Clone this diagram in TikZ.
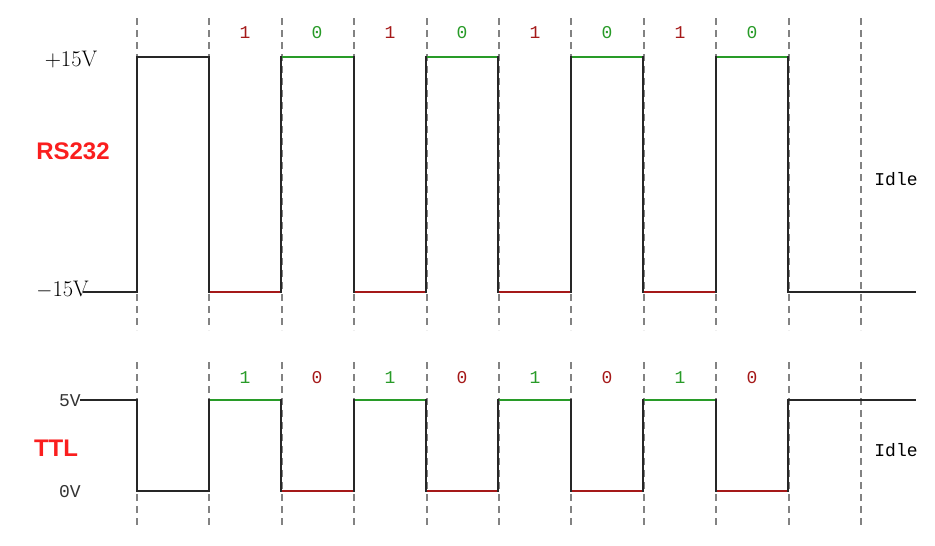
\documentclass[tikz,border=0pt]{standalone}
\usepackage{fontspec}
\newfontfamily\lsb{Liberation Sans}
\newfontfamily\mono{Liberation Mono}
\definecolor{sigred}{RGB}{165,25,25}
\definecolor{siggreen}{RGB}{40,155,40}
\definecolor{titred}{RGB}{250,30,30}
\definecolor{dashgray}{RGB}{130,130,130}
\tikzset{
  grid/.style={draw=dashgray,line width=2pt,dash pattern=on 7pt off 5pt},
  sig/.style={draw=black!85,line width=1.8pt},
  bitr/.style={sigred,line width=1.8pt},
  bitg/.style={siggreen,line width=1.8pt},
  monolab/.style={font=\mono\fontsize{18}{18}\selectfont,inner sep=0pt},
  title/.style={font=\lsb\bfseries\fontsize{24}{24}\selectfont,text=titred,inner sep=0pt},
  volt/.style={font=\fontsize{22.5}{22.5}\selectfont,inner sep=0pt}
}
\begin{document}
\begin{tikzpicture}[x=1pt,y=-1pt]
\useasboundingbox (0,0) rectangle (935,546);
\fill[white] (0,0) rectangle (935,546);
% dashed grid
\foreach \i in {0,...,10}{
  \pgfmathsetmacro{\xx}{137+72.4*\i}
  \draw[grid] (\xx,18) -- (\xx,330);
  \draw[grid] (\xx,362) -- (\xx,528);
}
% RS232 waveform
\coordinate (ts) at (83,292);
\coordinate (te) at (916,292);
\draw[sig] (ts) -- (137,292) -- (137,57) -- (209,57) -- (209,292) -- (281,292) -- (281,57)
  -- (354,57) -- (354,292) -- (426,292) -- (426,57) -- (498,57) -- (498,292) -- (571,292)
  -- (571,57) -- (643,57) -- (643,292) -- (716,292) -- (716,57) -- (788,57) -- (788,292) -- (te);
\foreach \a/\b in {209/281,354/426,498/571,643/716}
  \draw[bitr] (\a+1,292) -- (\b-1,292);
\foreach \a/\b in {281/354,426/498,571/643,716/788}
  \draw[bitg] (\a+1,57) -- (\b-1,57);
% TTL waveform
\coordinate (bs) at (80,400);
\coordinate (be) at (916,400);
\draw[sig] (bs) -- (137,400) -- (137,491) -- (209,491) -- (209,400) -- (281,400) -- (281,491)
  -- (354,491) -- (354,400) -- (426,400) -- (426,491) -- (498,491) -- (498,400) -- (571,400)
  -- (571,491) -- (643,491) -- (643,400) -- (716,400) -- (716,491) -- (788,491) -- (788,400) -- (be);
\foreach \a/\b in {281/354,426/498,571/643,716/788}
  \draw[bitr] (\a+1,491) -- (\b-1,491);
\foreach \a/\b in {209/281,354/426,498/571,643/716}
  \draw[bitg] (\a+1,400) -- (\b-1,400);
% bit labels
\foreach \x/\t/\c [count=\k] in {245/1/sigred,317/0/siggreen,390/1/sigred,462/0/siggreen,535/1/sigred,607/0/siggreen,680/1/sigred,752/0/siggreen}
  \node[monolab,text=\c] (tb\k) at (\x,33) {\t};
\foreach \x/\t/\c [count=\k] in {245/1/siggreen,317/0/sigred,390/1/siggreen,462/0/sigred,535/1/siggreen,607/0/sigred,680/1/siggreen,752/0/sigred}
  \node[monolab,text=\c] (bb\k) at (\x,378) {\t};
% texts
\node[volt] (p15) at (71,60) {+15V};
\node[volt,anchor=east] (m15) at (89,290) {$-$15V};
\node[title] (rs) at (73,151) {RS232};
\node[title] (ttl) at (56,448) {TTL};
\node[monolab,text=black!80,anchor=east] (v5) at (81,401) {5V};
\node[monolab,text=black!80,anchor=east] (v0) at (81,492) {0V};
\node[monolab] (idle1) at (896,179) {Idle};
\node[monolab] (idle2) at (896,450) {Idle};
\end{tikzpicture}
\end{document}
